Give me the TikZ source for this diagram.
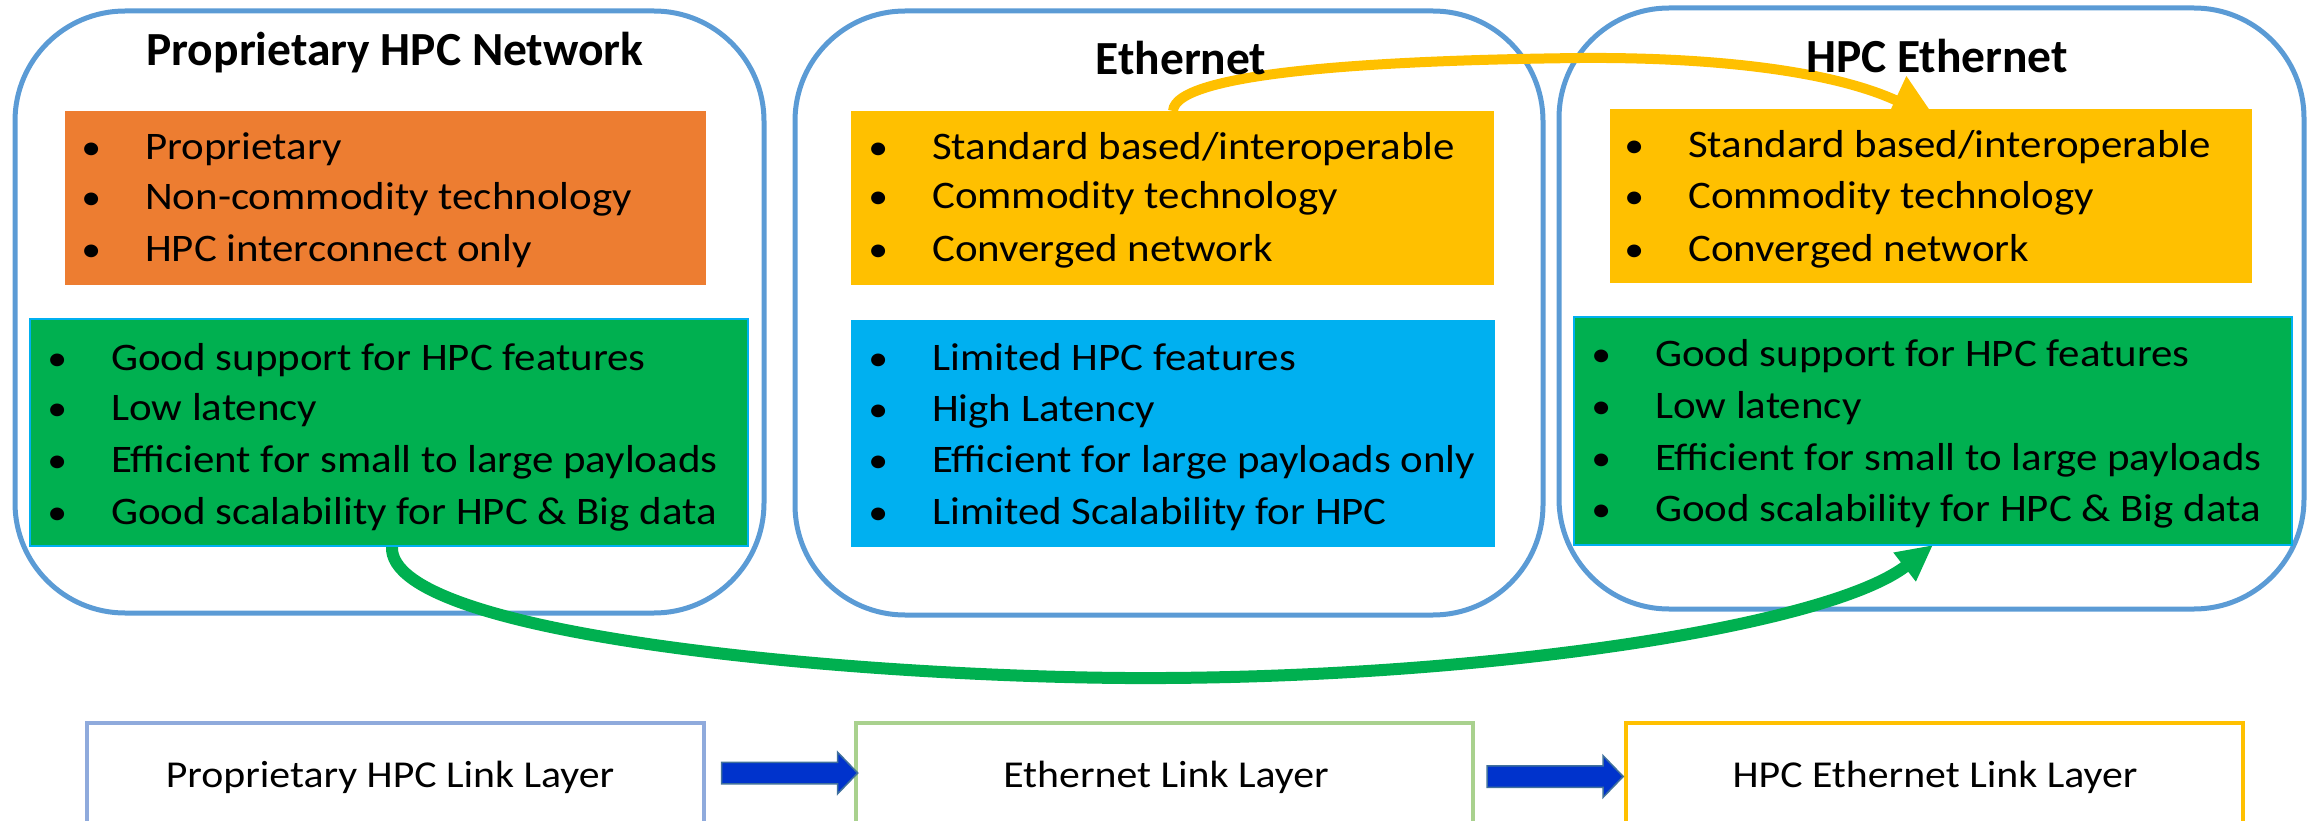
\documentclass[tikz,border=0pt]{standalone}
\usepackage{fontspec}
\setmainfont{Carlito}
\newfontfamily\bodyfont{Carlito}[FakeStretch=1.1]
\usetikzlibrary{arrows.meta,shapes.arrows}
\definecolor{frameblue}{HTML}{5B9BD5}
\definecolor{orangebox}{HTML}{ED7D31}
\definecolor{yellowbox}{HTML}{FFC000}
\definecolor{greenbox}{HTML}{00B050}
\definecolor{bluebox}{HTML}{00B0F0}
\definecolor{linkA}{HTML}{8FAADC}
\definecolor{linkB}{HTML}{A9D18E}
\definecolor{arrowblue}{HTML}{0033CC}
\definecolor{arrowedge}{HTML}{41719C}
\newcommand\bl[4]{\node[bul,name=#1] at (#2,#3) {\llap{\makebox[0pt]{\fontsize{36}{40}\selectfont•}\hspace{54pt}}#4};}
\tikzset{
  frame/.style={draw=frameblue, line width=5pt, rounded corners=110pt, inner sep=0pt},
  fillbox/.style={inner sep=0pt},
  bul/.style={anchor=base west, inner sep=0pt, font=\bodyfont\fontsize{39}{50}\selectfont},
  ttl/.style={anchor=base, inner sep=0pt, font=\fontsize{47.5}{54}\selectfont\bfseries},
  linkbox/.style={draw, line width=3.5pt, inner sep=0pt, minimum width=617pt, minimum height=200pt},
  linktext/.style={anchor=base, inner sep=0pt, font=\bodyfont\fontsize{38}{48}\selectfont},
  blockarrow/.style={single arrow, fill=arrowblue, draw=arrowedge, line width=1.5pt,
    inner xsep=0pt, inner ysep=10pt, text height=0pt, text depth=0pt,
    single arrow head extend=10pt, single arrow tip angle=92, minimum height=136pt},
}
\begin{document}
\begin{tikzpicture}[x=1pt,y=-1pt]
\useasboundingbox (0,0) rectangle (2310,821);
\clip (0,0) rectangle (2310,821);
% frames
\node[frame, minimum width=749pt, minimum height=602pt] (f1) at (389.5,312) {};
\node[frame, minimum width=748pt, minimum height=604pt] (f2) at (1169,313) {};
\node[frame, minimum width=745pt, minimum height=601pt] (f3) at (1931.5,308.5) {};
% connector end points
\coordinate (ystart) at (1173,111);
\coordinate (ytip) at (1936,119);
\coordinate (gstart) at (392,546);
\coordinate (gtip) at (1933,545);
% curved arrows
\draw[yellowbox, line width=10pt, -{Triangle[length=45pt,width=50pt]}]
  (ystart) .. controls (1175,70) and (1400,60) .. (1580,58)
           .. controls (1720,57) and (1835,72) .. (ytip);
\draw[greenbox, line width=12pt, -{Triangle[length=36pt,width=34pt]}]
  (gstart) .. controls (385,640) and (900,680) .. (1165,678)
           .. controls (1500,676) and (1830,625) .. (gtip);
% boxes
\node[fillbox, fill=orangebox, minimum width=641pt, minimum height=174pt] (ob) at (385.5,198) {};
\node[fillbox, fill=greenbox, draw=bluebox, line width=1.5pt, minimum width=718pt, minimum height=227pt] (g1) at (389,432.5) {};
\node[fillbox, fill=yellowbox, minimum width=643pt, minimum height=174pt] (y2) at (1172.5,198) {};
\node[fillbox, fill=bluebox, minimum width=644pt, minimum height=227pt] (b2) at (1173,433.5) {};
\node[fillbox, fill=yellowbox, minimum width=642pt, minimum height=174pt] (y3) at (1931,196) {};
\node[fillbox, fill=greenbox, draw=bluebox, line width=1.5pt, minimum width=718pt, minimum height=228pt] (g3) at (1933,431) {};
% titles
\node[ttl] (t1) at (395,66) {Proprietary HPC Network};
\node[ttl] (t2) at (1181,75) {Ethernet};
\node[ttl] (t3) at (1937,73) {HPC Ethernet};
% bullets
\bl{o1}{145}{160}{Proprietary}
\bl{o2}{145}{210}{Non-commodity technology}
\bl{o3}{145}{261}{HPC interconnect only}
\bl{ga1}{111}{370}{Good support for HPC features}
\bl{ga2}{111}{420}{Low latency}
\bl{ga3}{111}{472}{Efficient for small to large payloads}
\bl{ga4}{111}{524}{Good scalability for HPC \& Big data}
\bl{ya1}{932}{160}{Standard based/interoperable}
\bl{ya2}{932}{209}{Commodity technology}
\bl{ya3}{932}{261}{Converged network}
\bl{ba1}{932}{370}{Limited HPC features}
\bl{ba2}{932}{421}{High Latency}
\bl{ba3}{932}{472}{Efficient for large payloads only}
\bl{ba4}{932}{524}{Limited Scalability for HPC}
\bl{yb1}{1688}{158}{Standard based/interoperable}
\bl{yb2}{1688}{209}{Commodity technology}
\bl{yb3}{1688}{261}{Converged network}
\bl{gb1}{1655}{366}{Good support for HPC features}
\bl{gb2}{1655}{418}{Low latency}
\bl{gb3}{1655}{470}{Efficient for small to large payloads}
\bl{gb4}{1655}{521}{Good scalability for HPC \& Big data}
% link layer boxes
\node[linkbox, draw=linkA] (la) at (395.5,823) {};
\node[linkbox, draw=linkB] (lb) at (1164.5,823) {};
\node[linkbox, draw=yellowbox] (lc) at (1934.5,823) {};
\node[linktext] (lat) at (390,787) {Proprietary HPC Link Layer};
\node[linktext] (lbt) at (1166,787) {Ethernet Link Layer};
\node[linktext] (lct) at (1935,787) {HPC Ethernet Link Layer};
\node[blockarrow] (a1) at (784.5,773) {};
\node[blockarrow] (a2) at (1550,776.5) {};
\end{tikzpicture}
\end{document}
